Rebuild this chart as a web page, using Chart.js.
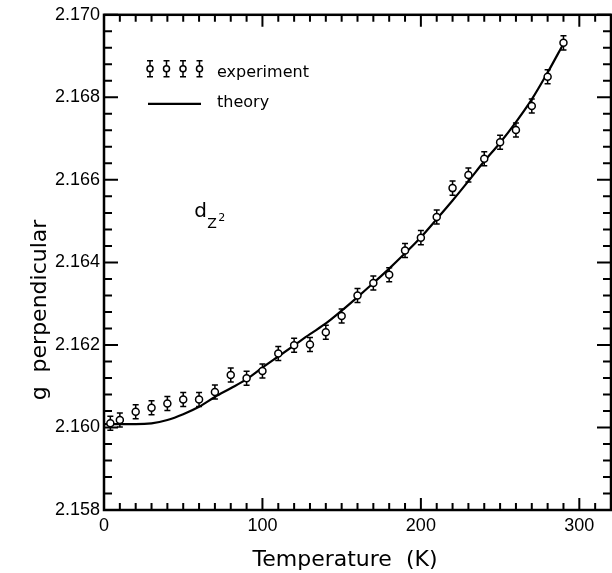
<!DOCTYPE html>
<html>
<head>
<meta charset="utf-8">
<script src="https://cdn.jsdelivr.net/npm/chart.js@4.4.0/dist/chart.umd.min.js"></script>
<style>
  body { margin: 0; background: #fff; }
</style>
</head>
<body>
<canvas id="chart" width="612" height="573"></canvas>
<script>
// measured points (T in K, g perpendicular)
const expTemp = [4, 10, 20, 30, 40, 50, 60, 70, 80, 90, 100, 110, 120, 130, 140,
  150, 160, 170, 180, 190, 200, 210, 220, 230, 240, 250, 260, 270, 280, 290];
const expG = [2.16010, 2.16018, 2.16038, 2.16048, 2.16058, 2.16068, 2.16068, 2.16086,
  2.16127, 2.16119, 2.16137, 2.16179, 2.16199, 2.16201, 2.16231, 2.16270, 2.16320,
  2.16350, 2.16370, 2.16429, 2.16460, 2.16510, 2.16580, 2.16612, 2.16651, 2.16691,
  2.16721, 2.16779, 2.16850, 2.16932];
const expErr = 0.00017;

// theory curve
const theoryTemp = [0, 10, 20, 30, 40, 50, 60, 70, 80, 90, 100, 110, 120, 130, 140,
  150, 160, 170, 180, 190, 200, 210, 220, 230, 240, 250, 260, 270, 280, 290];
const theoryG = [2.16008, 2.16008, 2.16008, 2.16010, 2.16018, 2.16032, 2.16050, 2.16074,
  2.16095, 2.16117, 2.16145, 2.16172, 2.16199, 2.16226, 2.16252, 2.16283, 2.16316,
  2.16350, 2.16385, 2.16422, 2.16461, 2.16505, 2.16550, 2.16597, 2.16645, 2.16690,
  2.16740, 2.16795, 2.16860, 2.16930];

const xTicks = [0, 100, 200, 300];
const yTicks = [2.158, 2.160, 2.162, 2.164, 2.166, 2.168, 2.170];

const tickFont = { family: 'Liberation Sans', size: 18 };

function errorBar(ctx, x, yTop, yBot, yMid, r) {
  ctx.beginPath();
  ctx.moveTo(x, yTop); ctx.lineTo(x, yMid - r);
  ctx.moveTo(x, yMid + r); ctx.lineTo(x, yBot);
  ctx.moveTo(x - 3, yTop); ctx.lineTo(x + 3, yTop);
  ctx.moveTo(x - 3, yBot); ctx.lineTo(x + 3, yBot);
  ctx.stroke();
}

const framePlugin = {
  id: 'frame',
  beforeDatasetsDraw(chart) {
    const ctx = chart.ctx;
    const xs = chart.scales.x, ys = chart.scales.y;
    ctx.save();
    ctx.strokeStyle = '#000';
    ctx.lineWidth = 1.5;
    expTemp.forEach((t, i) => {
      const x = xs.getPixelForValue(t);
      errorBar(ctx, x, ys.getPixelForValue(expG[i] + expErr),
        ys.getPixelForValue(expG[i] - expErr), ys.getPixelForValue(expG[i]), 3);
    });
    ctx.restore();
  },
  afterDraw(chart) {
    const ctx = chart.ctx;
    const a = chart.chartArea;
    const xs = chart.scales.x, ys = chart.scales.y;
    ctx.save();
    ctx.strokeStyle = '#000';
    ctx.fillStyle = '#000';

    // frame
    ctx.lineWidth = 2.5;
    ctx.strokeRect(a.left, a.top, a.right - a.left, a.bottom - a.top);

    // inward ticks on all four sides
    ctx.lineWidth = 2;
    ctx.beginPath();
    for (let i = 0; i <= 32; i++) {
      const x = xs.getPixelForValue(i * 10);
      const len = i % 10 === 0 ? 12 : 7;
      ctx.moveTo(x, a.bottom); ctx.lineTo(x, a.bottom - len);
      ctx.moveTo(x, a.top); ctx.lineTo(x, a.top + len);
    }
    for (let i = 0; i <= 30; i++) {
      const y = ys.getPixelForValue(2.158 + i * 0.0004);
      const len = i % 5 === 0 ? 14 : 8;
      ctx.moveTo(a.left, y); ctx.lineTo(a.left + len, y);
      ctx.moveTo(a.right, y); ctx.lineTo(a.right - len, y);
    }
    ctx.stroke();

    // legend
    ctx.lineWidth = 1.5;
    const ly = a.top + 54;
    [46, 62.5, 79, 95.5].forEach(dx => {
      const x = a.left + dx;
      errorBar(ctx, x, ly - 8, ly + 8, ly, 3);
      ctx.beginPath();
      ctx.arc(x, ly, 3, 0, Math.PI * 2);
      ctx.fillStyle = '#fff'; ctx.fill();
      ctx.stroke();
    });
    ctx.fillStyle = '#000';
    ctx.lineWidth = 2.2;
    ctx.beginPath();
    ctx.moveTo(a.left + 44, a.top + 89);
    ctx.lineTo(a.left + 97, a.top + 89);
    ctx.stroke();
    ctx.font = '16px "DejaVu Sans"';
    ctx.textBaseline = 'alphabetic';
    ctx.textAlign = 'left';
    ctx.fillText('experiment', a.left + 113, a.top + 62);
    ctx.fillText('theory', a.left + 113, a.top + 92);

    // d_{z^2} label
    const dx = xs.getPixelForValue(57), dy = ys.getPixelForValue(2.16509);
    ctx.font = '20px "DejaVu Sans"';
    ctx.fillText('d', dx, dy);
    ctx.font = '14px "DejaVu Sans"';
    ctx.fillText('Z', dx + 13, dy + 11);
    ctx.font = '11px "DejaVu Sans"';
    ctx.fillText('2', dx + 24, dy + 4);

    // axis titles
    ctx.font = '22px "DejaVu Sans"';
    ctx.textAlign = 'center';
    ctx.fillText('Temperature  (K)', 345, 566);
    ctx.translate(46, 310);
    ctx.rotate(-Math.PI / 2);
    ctx.fillText('g  perpendicular', 0, 0);
    ctx.restore();
  }
};

new Chart(document.getElementById('chart'), {
  type: 'scatter',
  data: {
    datasets: [
      {
        label: 'experiment',
        data: expTemp.map((t, i) => ({ x: t, y: expG[i] })),
        pointStyle: 'circle',
        pointRadius: 3.5,
        pointBorderWidth: 1.5,
        pointBackgroundColor: '#fff',
        pointBorderColor: '#000',
        order: 1
      },
      {
        label: 'theory',
        data: theoryTemp.map((t, i) => ({ x: t, y: theoryG[i] })),
        showLine: true,
        borderColor: '#000',
        borderWidth: 2.2,
        cubicInterpolationMode: 'monotone',
        pointRadius: 0,
        order: 2
      }
    ]
  },
  options: {
    responsive: false,
    animation: false,
    layout: { autoPadding: false, padding: { top: 14, right: 1, left: 0, bottom: 0 } },
    plugins: { legend: { display: false }, tooltip: { enabled: false } },
    scales: {
      x: {
        type: 'linear',
        min: 0,
        max: 320,
        afterBuildTicks: s => { s.ticks = xTicks.map(v => ({ value: v })); },
        afterFit: s => { s.height = 63; s.paddingRight = 0; s.paddingLeft = 0; },
        grid: { display: false, drawTicks: false },
        border: { display: false },
        ticks: { padding: 5, color: '#000', font: tickFont, maxRotation: 0 }
      },
      y: {
        min: 2.158,
        max: 2.170,
        afterBuildTicks: s => { s.ticks = yTicks.map(v => ({ value: v })); },
        afterFit: s => { s.width = 104; },
        grid: { display: false, drawTicks: false },
        border: { display: false },
        ticks: { padding: 4, color: '#000', font: tickFont, callback: v => v.toFixed(3) }
      }
    }
  },
  plugins: [framePlugin]
});
</script>
</body>
</html>
